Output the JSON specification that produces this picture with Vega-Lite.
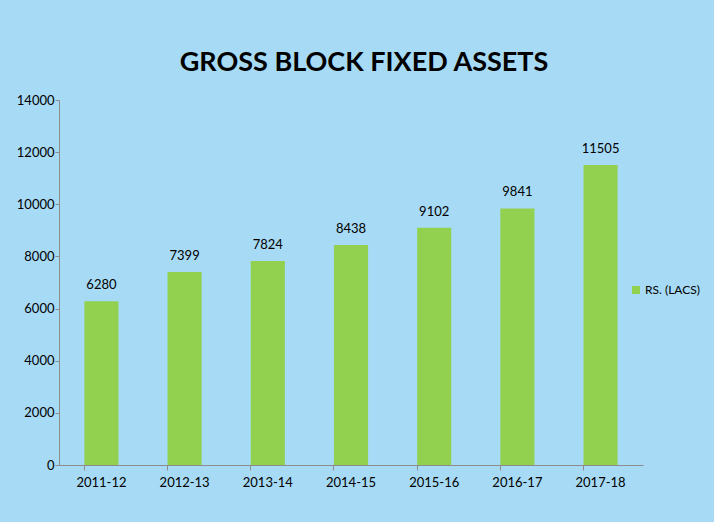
{
  "$schema": "https://vega.github.io/schema/vega-lite/v6.json",
  "width": 584,
  "height": 365,
  "autosize": {"type": "none"},
  "padding": {"left": 59, "top": 100, "right": 71, "bottom": 57},
  "background": "#A7DAF5",
  "title": {
    "text": "GROSS BLOCK FIXED ASSETS",
    "font": "Lato",
    "fontSize": 27,
    "fontWeight": "bold",
    "color": "#000000",
    "anchor": "middle",
    "offset": 17,
    "dx": 13
  },
  "data": {
    "values": [
      {"year": "2011-12", "value": 6280, "series": "RS. (LACS)"},
      {"year": "2012-13", "value": 7399, "series": "RS. (LACS)"},
      {"year": "2013-14", "value": 7824, "series": "RS. (LACS)"},
      {"year": "2014-15", "value": 8438, "series": "RS. (LACS)"},
      {"year": "2015-16", "value": 9102, "series": "RS. (LACS)"},
      {"year": "2016-17", "value": 9841, "series": "RS. (LACS)"},
      {"year": "2017-18", "value": 11505, "series": "RS. (LACS)"}
    ]
  },
  "encoding": {
    "x": {
      "field": "year",
      "type": "nominal",
      "sort": null,
      "scale": {"paddingInner": 0.59, "paddingOuter": 0.305},
      "axis": {
        "title": null,
        "labelAngle": 0,
        "labelFont": "Lato",
        "labelFontSize": 13,
        "labelColor": "#000000",
        "labelPadding": 6,
        "domainColor": "#8C8C8C",
        "tickColor": "#8C8C8C",
        "tickSize": 5,
        "bandPosition": 0
      }
    },
    "y": {
      "field": "value",
      "type": "quantitative",
      "scale": {"domain": [0, 14000], "nice": false},
      "axis": {
        "title": null,
        "values": [0, 2000, 4000, 6000, 8000, 10000, 12000, 14000],
        "format": "d",
        "grid": false,
        "labelFont": "Lato",
        "labelFontSize": 13,
        "labelColor": "#000000",
        "labelPadding": 1,
        "domainColor": "#8C8C8C",
        "tickColor": "#8C8C8C",
        "tickSize": 4
      }
    }
  },
  "layer": [
    {
      "mark": {"type": "bar"},
      "encoding": {
        "color": {
          "field": "series",
          "type": "nominal",
          "scale": {"range": ["#92D050"]},
          "legend": {
            "title": null,
            "orient": "none",
            "legendX": 571,
            "legendY": 184,
            "symbolType": "square",
            "symbolSize": 64,
            "symbolStrokeWidth": 0,
            "labelFont": "Lato",
            "labelFontSize": 12,
            "labelColor": "#000000",
            "labelOffset": 3
          }
        }
      }
    },
    {
      "mark": {
        "type": "text",
        "baseline": "bottom",
        "dy": -9,
        "font": "Lato",
        "fontSize": 13,
        "color": "#000000"
      },
      "encoding": {
        "text": {"field": "value", "type": "quantitative", "format": "d"}
      }
    }
  ],
  "config": {"view": {"stroke": null}}
}
